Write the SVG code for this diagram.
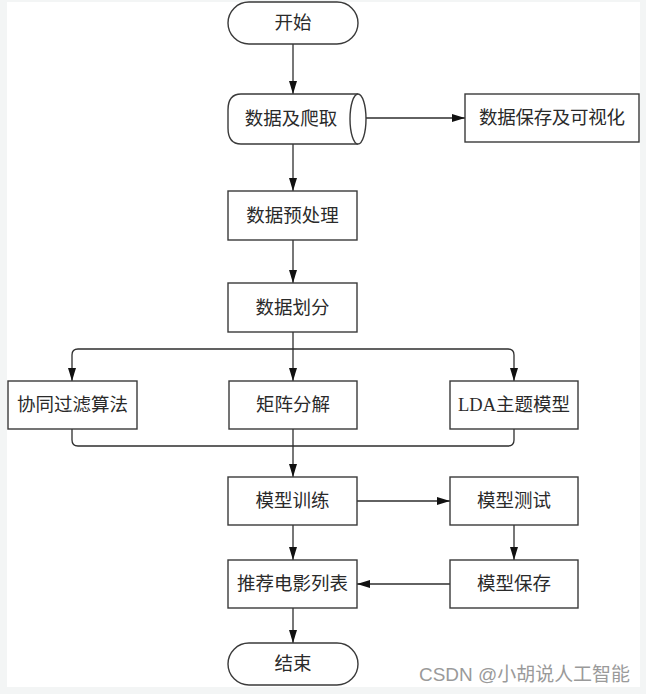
<svg xmlns="http://www.w3.org/2000/svg" width="646" height="694" viewBox="0 0 646 694">
<style>
.box{fill:#fff;stroke:#3a3a3a;stroke-width:1.4}
.ln{fill:none;stroke:#2e2e2e;stroke-width:1.3}
.t{font-family:"Liberation Serif","Noto Sans CJK SC",serif;font-size:18.5px;fill:#2a2a2a;text-anchor:middle;dominant-baseline:central}
.wm{font-family:"Liberation Sans","Noto Sans CJK SC",sans-serif;font-size:19px;fill:#9a9a9a}
</style>
<defs>
<marker id="ah" viewBox="0 0 13 8" refX="13" refY="4" markerWidth="13" markerHeight="8" markerUnits="userSpaceOnUse" orient="auto">
<path d="M0,0 L13,4 L0,8 Z" fill="#111"/>
</marker>
</defs>
<rect x="0" y="0" width="646" height="694" fill="#f3f5f5"/>
<rect x="7" y="2" width="633" height="685" fill="#fff"/>

<g id="connectors">
<path class="ln" d="M293,44 V94" marker-end="url(#ah)"/>
<path class="ln" d="M366,118 H465" marker-end="url(#ah)"/>
<path class="ln" d="M293,144 V191" marker-end="url(#ah)"/>
<path class="ln" d="M293,240 V283" marker-end="url(#ah)"/>
<path class="ln" d="M293,332 V381" marker-end="url(#ah)"/>
<path class="ln" d="M293,349 H78 Q72,349 72,355 V381" marker-end="url(#ah)"/>
<path class="ln" d="M293,349 H508 Q514,349 514,355 V381" marker-end="url(#ah)"/>
<path class="ln" d="M72,429 V440 Q72,446 78,446 H508 Q514,446 514,440 V429"/>
<path class="ln" d="M293,429 V477" marker-end="url(#ah)"/>
<path class="ln" d="M357,501 H450" marker-end="url(#ah)"/>
<path class="ln" d="M514,525 V560" marker-end="url(#ah)"/>
<path class="ln" d="M450,584 H357" marker-end="url(#ah)"/>
<path class="ln" d="M293,525 V560" marker-end="url(#ah)"/>
<path class="ln" d="M293,608 V643" marker-end="url(#ah)"/>
</g>

<g id="start">
<rect class="box" x="228" y="2" width="130" height="42" rx="21" ry="21"/>
<text class="t" x="293" y="23">开始</text>
</g>
<g id="crawl">
<path class="box" d="M358,94 H241 Q228,94 228,110 V128 Q228,144 241,144 H358"/>
<ellipse class="box" cx="358" cy="119" rx="8" ry="25"/>
<text class="t" x="291" y="119">数据及爬取</text>
</g>
<g id="save-vis">
<rect class="box" x="465" y="94" width="174" height="48"/>
<text class="t" x="552" y="118" textLength="146" lengthAdjust="spacing">数据保存及可视化</text>
</g>
<g id="preprocess">
<rect class="box" x="228" y="191" width="129" height="49"/>
<text class="t" x="292.5" y="215.5">数据预处理</text>
</g>
<g id="split">
<rect class="box" x="228" y="283" width="129" height="49"/>
<text class="t" x="292.5" y="307.5">数据划分</text>
</g>
<g id="cf">
<rect class="box" x="8" y="381" width="129" height="48"/>
<text class="t" x="72.5" y="405">协同过滤算法</text>
</g>
<g id="mf">
<rect class="box" x="229" y="381" width="128" height="48"/>
<text class="t" x="293" y="405">矩阵分解</text>
</g>
<g id="lda">
<rect class="box" x="450" y="381" width="128" height="48"/>
<text class="t" x="514" y="405">LDA主题模型</text>
</g>
<g id="train">
<rect class="box" x="228" y="477" width="129" height="48"/>
<text class="t" x="292.5" y="501">模型训练</text>
</g>
<g id="test">
<rect class="box" x="450" y="477" width="128" height="48"/>
<text class="t" x="514" y="501">模型测试</text>
</g>
<g id="recommend">
<rect class="box" x="228" y="560" width="129" height="48"/>
<text class="t" x="292.5" y="584">推荐电影列表</text>
</g>
<g id="model-save">
<rect class="box" x="450" y="560" width="128" height="48"/>
<text class="t" x="514" y="584">模型保存</text>
</g>
<g id="end">
<rect class="box" x="228" y="643" width="130" height="42" rx="21" ry="21"/>
<text class="t" x="293" y="664">结束</text>
</g>
<text class="wm" x="419" y="681" textLength="211" lengthAdjust="spacingAndGlyphs">CSDN @小胡说人工智能</text>
</svg>
